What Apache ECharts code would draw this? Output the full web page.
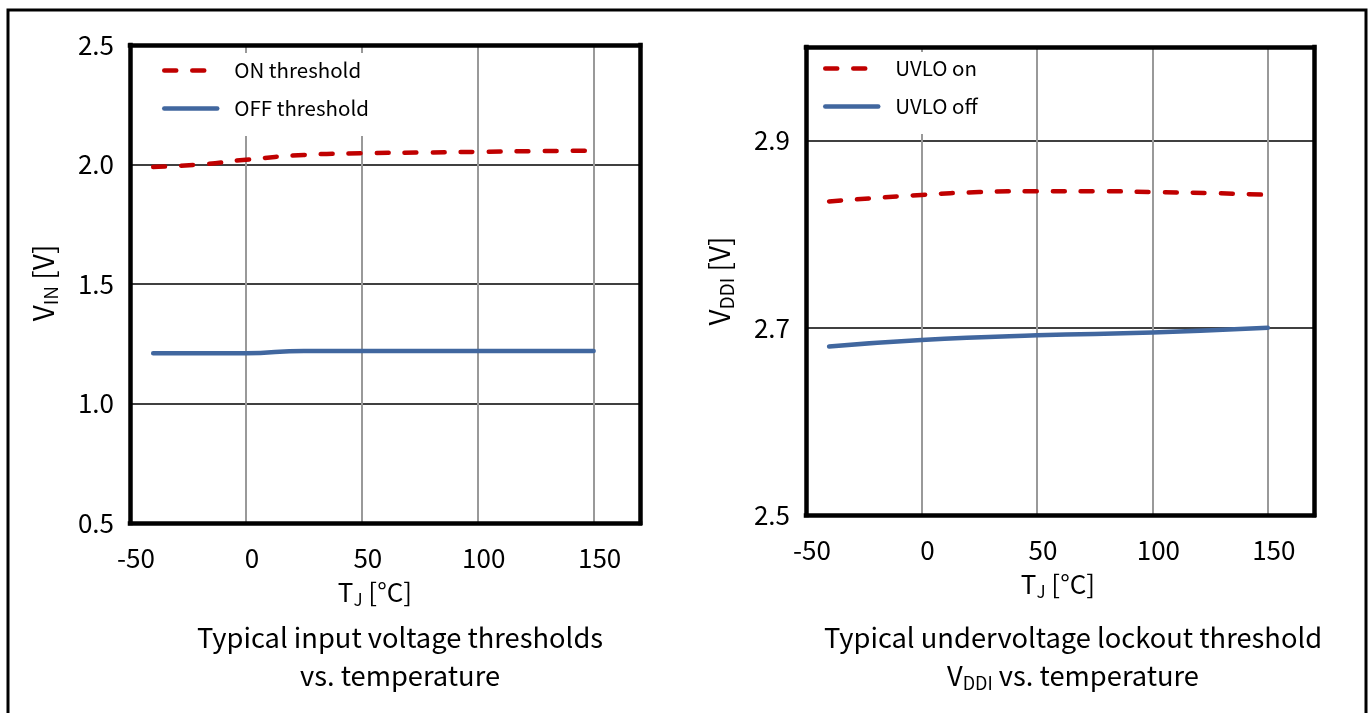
<!DOCTYPE html>
<html>
<head>
<meta charset="utf-8">
<script src="https://cdn.jsdelivr.net/npm/echarts@6/dist/echarts.min.js"></script>
<style>
html,body{margin:0;padding:0;background:#fff;}
#c{width:1370px;height:713px;}
</style>
</head>
<body>
<div id="c"></div>
<script>
// ---- data ----
const tempOn1  = [-40, -20, 0, 25, 50, 75, 100, 125, 150];
const onThr    = [1.99, 2.00, 2.02, 2.04, 2.047, 2.05, 2.053, 2.056, 2.058];
const tempOff1 = [-40, -20, 0, 25, 50, 75, 100, 125, 150];
const offThr   = [1.21, 1.21, 1.21, 1.22, 1.22, 1.22, 1.22, 1.22, 1.22];

const tempOn2  = [-40, 0, 25, 50, 75, 100, 125, 150];
const uvloOn   = [2.835, 2.842, 2.845, 2.846, 2.846, 2.845, 2.844, 2.842];
const tempOff2 = [-40, 0, 50, 100, 150];
const uvloOff  = [2.680, 2.687, 2.692, 2.695, 2.700];

const xTicks = [-50, 0, 50, 100, 150];
const yTicks1 = [0.5, 1.0, 1.5, 2.0, 2.5];
const yTicks2 = [2.5, 2.7, 2.9];

const FONT = '"Noto Sans CJK SC", "Noto Sans", sans-serif';
const RED = '#C00000';
const BLUE = '#41679F';

function pairs(xs, ys){ return xs.map((x,i)=>[x, ys[i]]); }

const borderLine = {show:true, onZero:false, lineStyle:{color:'#000', width:4.5, cap:'square'}};
function xMain(gi, namePad){
  return {
    type:'value', gridIndex:gi, min:-50, max:170, interval:50, position:'bottom',
    axisLine:borderLine, axisTick:{show:false},
    axisLabel:{fontFamily:FONT, fontSize:26, color:'#000', margin:22, padding:[0,0,0,12],
      formatter:v=> xTicks.includes(v) ? String(v) : ''},
    splitLine:{show:true, lineStyle:{color:'#999', width:2}},
    name:'{a|T}{s|J}{a| [°C]}', nameLocation:'middle', nameGap:54,
    nameTextStyle:{fontFamily:FONT, color:'#000', padding:namePad,
      rich:{a:{fontFamily:FONT,fontSize:26,color:'#000'}, s:{fontFamily:FONT,fontSize:17,color:'#000',padding:[14,0,0,0]}}}
  };
}
function xTop(gi){
  return {type:'value', gridIndex:gi, min:-50, max:170, position:'top',
    axisLine:borderLine, axisTick:{show:false}, axisLabel:{show:false}, splitLine:{show:false}};
}
function yMain(gi, min, max, interval, ticks){
  return {
    type:'value', gridIndex:gi, min:min, max:max, interval:interval, position:'left',
    axisLine:borderLine, axisTick:{show:false},
    axisLabel:{fontFamily:FONT, fontSize:26, color:'#000', margin:16,
      formatter:v=> ticks.some(t=>Math.abs(t-v)<1e-9) ? v.toFixed(1) : ''},
    splitLine:{show:true, lineStyle:{color:'#000', width:1.5}}
  };
}
function yRight(gi, min, max){
  return {type:'value', gridIndex:gi, min:min, max:max, position:'right',
    axisLine:borderLine, axisTick:{show:false}, axisLabel:{show:false}, splitLine:{show:false}};
}

const nameRich = {a:{fontFamily:FONT,fontSize:28,fill:'#000'}, s:{fontFamily:FONT,fontSize:19,fill:'#000',padding:[15,0,0,0]}};

const chart = echarts.init(document.getElementById('c'));
const legendCommon = {
  orient:'vertical', backgroundColor:'#fff', itemWidth:53, itemHeight:14, itemGap:17,
  textStyle:{fontFamily:FONT, fontSize:20.5, color:'#000', padding:[0,0,0,12], lineHeight:21},
  itemStyle:{opacity:0},
  lineStyle:{width:4.5, cap:'round'},
  inactiveColor:'#000'
};
chart.setOption({
  animation:false,
  grid:[
    {left:130, top:45, width:510, height:478},
    {left:806, top:47, width:508, height:468}
  ],
  xAxis:[xMain(0,[0,20,0,0]), xTop(0), xMain(1,[0,4,0,0]), xTop(1)],
  yAxis:[
    yMain(0, 0.5, 2.5, 0.5, yTicks1),
    yRight(0, 0.5, 2.5),
    yMain(1, 2.5, 3.0, 0.2, yTicks2),
    yRight(1, 2.5, 3.0)
  ],
  legend:[
    Object.assign({}, legendCommon, {data:['ON threshold','OFF threshold'], left:133, top:53, padding:[7,30,17,29]}),
    Object.assign({}, legendCommon, {data:['UVLO on','UVLO off'], left:809, top:52, padding:[6,30,17,14]})
  ],
  series:[
    {name:'ON threshold', type:'line', xAxisIndex:0, yAxisIndex:0, data:pairs(tempOn1,onThr), smooth:true, symbol:'none',
      lineStyle:{color:RED, width:4.5, type:[12,16], cap:'round'}, itemStyle:{color:RED}},
    {name:'OFF threshold', type:'line', xAxisIndex:0, yAxisIndex:0, data:pairs(tempOff1,offThr), smooth:true, symbol:'none',
      lineStyle:{color:BLUE, width:4.5, cap:'round'}, itemStyle:{color:BLUE}},
    {name:'UVLO on', type:'line', xAxisIndex:2, yAxisIndex:2, data:pairs(tempOn2,uvloOn), smooth:true, symbol:'none',
      lineStyle:{color:RED, width:4.5, type:[12,16], cap:'round'}, itemStyle:{color:RED}},
    {name:'UVLO off', type:'line', xAxisIndex:2, yAxisIndex:2, data:pairs(tempOff2,uvloOff), smooth:true, symbol:'none',
      lineStyle:{color:BLUE, width:4.5, cap:'round'}, itemStyle:{color:BLUE}}
  ],
  graphic:[
    {type:'rect', shape:{x:8, y:10, width:1358, height:720}, style:{fill:'none', stroke:'#000', lineWidth:3}, silent:true},
    {type:'text', x:43, y:283, rotation:Math.PI/2, style:{text:'{a|V}{s|IN}{a| [V]}', rich:nameRich, fill:'#000', textAlign:'center', textVerticalAlign:'middle'}},
    {type:'text', x:719, y:281, rotation:Math.PI/2, style:{text:'{a|V}{s|DDI}{a| [V]}', rich:nameRich, fill:'#000', textAlign:'center', textVerticalAlign:'middle'}},
    {type:'text', x:400, y:638, style:{text:'Typical input voltage thresholds', font:'27.3px '+FONT, fill:'#000', textAlign:'center', textVerticalAlign:'middle'}},
    {type:'text', x:400, y:676, style:{text:'vs. temperature', font:'27.3px '+FONT, fill:'#000', textAlign:'center', textVerticalAlign:'middle'}},
    {type:'text', x:1073, y:638, style:{text:'Typical undervoltage lockout threshold', font:'27.3px '+FONT, fill:'#000', textAlign:'center', textVerticalAlign:'middle'}},
    {type:'text', x:1073, y:676, style:{text:'{a|V}{s|DDI}{a| vs. temperature}', fill:'#000', textAlign:'center', textVerticalAlign:'middle',
      rich:{a:{fontFamily:FONT,fontSize:27.3,fill:'#000'}, s:{fontFamily:FONT,fontSize:18,fill:'#000',padding:[14,0,0,0]}}}}
  ]
});
</script>
</body>
</html>
